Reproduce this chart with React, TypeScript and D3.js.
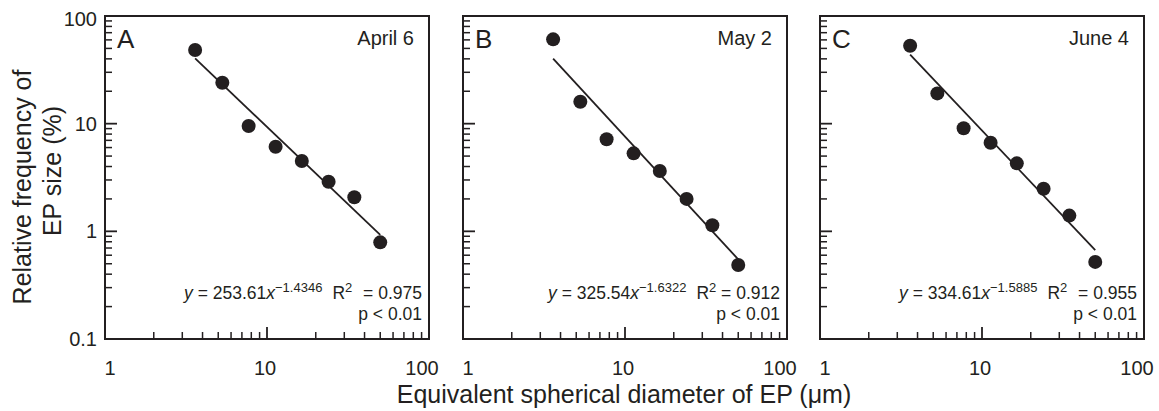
import React from "react";
import * as d3 from "d3";

// ---- data ----
const diameters = [3.6, 5.3, 7.7, 11.3, 16.4, 24, 34.6, 50];
const aprilFreq = [48.3, 24.0, 9.5, 6.1, 4.5, 2.89, 2.07, 0.79];
const mayFreq = [60.7, 16.0, 7.16, 5.3, 3.63, 2.0, 1.14, 0.487];
const juneFreq = [53, 19.1, 9.06, 6.65, 4.28, 2.49, 1.4, 0.52];
const panelLetters = ["A", "B", "C"];
const panelDates = ["April 6", "May 2", "June 4"];
const fitCoef = [253.61, 325.54, 334.61];
const fitExp = [-1.4346, -1.6322, -1.5885];
const coefLabels = ["253.61", "325.54", "334.61"];
const expLabels = ["\u22121.4346", "\u22121.6322", "\u22121.5885"];
const r2Labels = ["0.975", "0.912", "0.955"];
const r2Gap = [6, 0, 6];
const xTickLabels = [1, 10, 100];
const yTickLabels = [100, 10, 1, 0.1];
const yTitleLines = ["Relative frequency of", "EP size (%)"];
const xTitle = "Equivalent spherical diameter of EP (\u03bcm)";

const series = [aprilFreq, mayFreq, juneFreq];

// ---- layout ----
const W = 1159;
const H = 411;
const panelLeft = [105, 463, 820];
const top = 16;
const pw = 324;
const ph = 323;
const ink = "#231f20";
const font = "'Liberation Sans', Arial, Helvetica, sans-serif";

const x = d3.scaleLog().domain([1, 100]).range([0, pw]);
const y = d3.scaleLog().domain([0.1, 100]).range([ph, 0]);

const minorVals = (lo: number, hi: number) => {
  const out: number[] = [];
  for (let d = lo; d < hi; d *= 10) {
    for (let k = 2; k <= 9; k++) out.push(d * k);
  }
  return out;
};
const xMinor = minorVals(1, 100);
const yMinor = minorVals(0.1, 100);

function Panel({ i }: { i: number }) {
  const left = panelLeft[i];
  const vals = series[i];
  const line = d3
    .line<number>()
    .x((d) => x(d))
    .y((d) => y(fitCoef[i] * Math.pow(d, fitExp[i])));
  const fitXs = [diameters[0], diameters[diameters.length - 1]];
  return (
    <g transform={`translate(${left},${top})`}>
      {/* y ticks */}
      {yMinor.map((v) => (
        <line key={"ym" + v} x1={0} x2={7} y1={y(v)} y2={y(v)} stroke={ink} strokeWidth={1.5} />
      ))}
      {[1, 10].map((v) => (
        <line key={"yM" + v} x1={0} x2={12} y1={y(v)} y2={y(v)} stroke={ink} strokeWidth={1.8} />
      ))}
      {/* x ticks */}
      {xMinor.map((v) => (
        <line key={"xm" + v} x1={x(v)} x2={x(v)} y1={ph} y2={ph - 7} stroke={ink} strokeWidth={1.5} />
      ))}
      <line x1={x(10)} x2={x(10)} y1={ph} y2={ph - 12} stroke={ink} strokeWidth={1.8} />
      {/* frame */}
      <rect x={0} y={0} width={pw} height={ph} fill="none" stroke={ink} strokeWidth={2} />
      {/* fit line */}
      <path d={line(fitXs) || ""} fill="none" stroke={ink} strokeWidth={1.8} />
      {/* points */}
      {vals.map((v, j) => (
        <circle key={j} cx={x(diameters[j])} cy={y(v)} r={7} fill={ink} />
      ))}
      {/* labels */}
      <text x={12} y={32} fontSize={26} fill={ink} fontFamily={font}>
        {panelLetters[i]}
      </text>
      <text x={pw - 15} y={29} fontSize={20} fill={ink} fontFamily={font} textAnchor="end">
        {panelDates[i]}
      </text>
      <text x={pw - 7} y={283} fontSize={17.5} fill={ink} fontFamily={font} textAnchor="end">
        <tspan fontStyle="italic">y</tspan>
        <tspan>{` = ${coefLabels[i]}`}</tspan>
        <tspan fontStyle="italic">x</tspan>
        <tspan fontSize={13} dy={-7}>{expLabels[i]}</tspan>
        <tspan dy={7} dx={10}>R</tspan>
        <tspan fontSize={13} dy={-7}>2</tspan>
        <tspan dy={7} dx={r2Gap[i]}>{` = ${r2Labels[i]}`}</tspan>
      </text>
      <text x={pw - 7} y={304} fontSize={17.5} fill={ink} fontFamily={font} textAnchor="end">
        p &lt; 0.01
      </text>
      {/* x tick labels */}
      {xTickLabels.map((v) => (
        <text
          key={"xl" + v}
          x={x(v) + (v === 1 ? 5 : v === 100 ? -7 : -2)}
          y={ph + 36}
          fontSize={20}
          fill={ink}
          fontFamily={font}
          textAnchor="middle"
        >
          {v}
        </text>
      ))}
      {/* y tick labels (first panel only) */}
      {i === 0 &&
        yTickLabels.map((v) => (
          <text
            key={"yl" + v}
            x={-8}
            y={y(v) + (v === 100 ? 3 : 0)}
            fontSize={20}
            fill={ink}
            fontFamily={font}
            textAnchor="end"
            dominantBaseline="central"
          >
            {v}
          </text>
        ))}
    </g>
  );
}

export default function App() {
  return (
    <svg
      width={W}
      height={H}
      style={{ position: "absolute", left: 0, top: 0, background: "#fff" }}
    >
      {panelLetters.map((_, i) => (
        <Panel key={i} i={i} />
      ))}
      <text
        transform={`translate(31,187) rotate(-90)`}
        fontSize={25}
        fill={ink}
        fontFamily={font}
        textAnchor="middle"
      >
        {yTitleLines[0]}
      </text>
      <text
        transform={`translate(61,171) rotate(-90)`}
        fontSize={25}
        fill={ink}
        fontFamily={font}
        textAnchor="middle"
      >
        {yTitleLines[1]}
      </text>
      <text x={624} y={403} fontSize={25} fill={ink} fontFamily={font} textAnchor="middle">
        {xTitle}
      </text>
    </svg>
  );
}
